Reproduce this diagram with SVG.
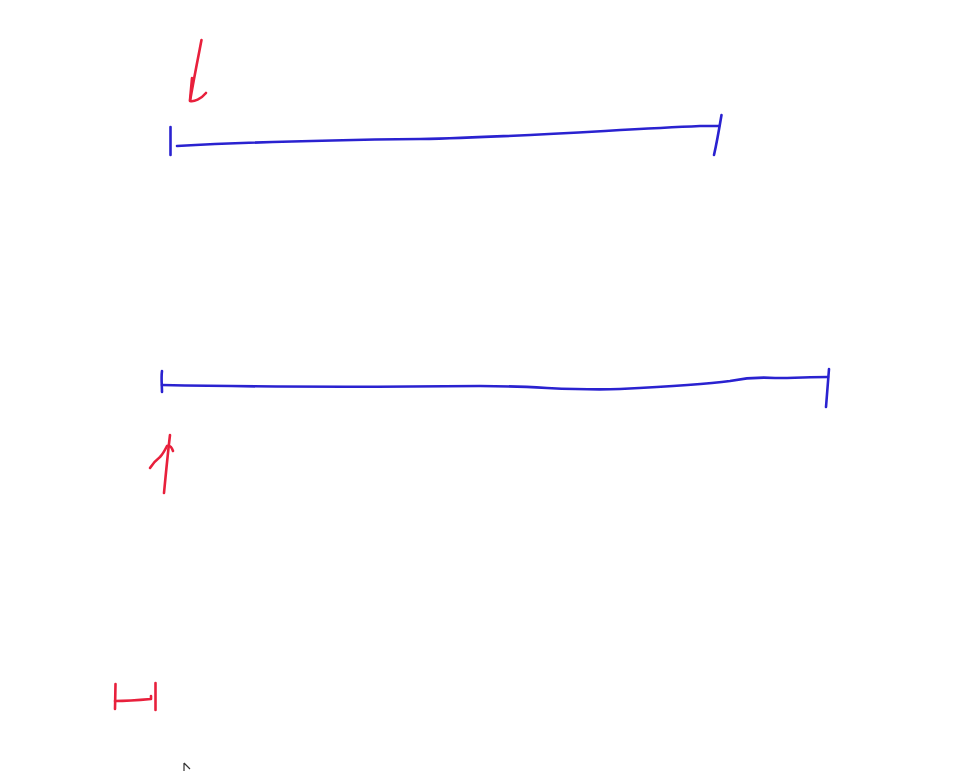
<svg xmlns="http://www.w3.org/2000/svg" width="973" height="771" viewBox="0 0 973 771">
<style>
.b{fill:none;stroke:#2a22d0;stroke-width:2.6;stroke-linecap:round;stroke-linejoin:round}
.r{fill:none;stroke:#e8203c;stroke-width:2.6;stroke-linecap:round;stroke-linejoin:round}
</style>
<rect width="973" height="771" fill="#ffffff"/>
<g id="arrow-down">
<path class="r" d="M201.5,40 C198,58 194,78 190,101 C194,102 201,99 206,93"/>
<path class="r" d="M192,78 L190,100"/>
</g>
<g id="line-top">
<path class="b" d="M170.5,127 L170.5,155"/>
<path class="b" d="M177,146 C250,142 330,140 420,139 C520,137 610,130 700,126 L719,126"/>
<path class="b" d="M721.5,115 C719,130 717,142 714,155"/>
</g>
<g id="line-bottom">
<path class="b" d="M162,371 C161,378 162,386 162,392"/>
<path class="b" d="M162,385 C260,387 380,387 480,386 C540,386 570,391 620,389 C660,387 700,385 730,381 C745,378 760,377 775,378 C795,378 810,377 828,377"/>
<path class="b" d="M829,369 C828,382 827,395 826,407"/>
</g>
<g id="arrow-up">
<path class="r" d="M164,493 C166,472 168,452 170,435"/>
<path class="r" d="M150,468 C154,462 156,460 160,457 C163,454 166,448 167,446 C170,445 172,448 173,451"/>
</g>
<g id="bracket">
<path class="r" d="M115.5,684 L115,709"/>
<path class="r" d="M115,701 C126,701 140,700 151,699 L151,696"/>
<path class="r" d="M155.5,683 L155.5,710"/>
</g>
<g id="cursor">
<path d="M184,763 L184,771 M184,763 L190,769" fill="none" stroke="#333" stroke-width="1.2"/>
</g>
</svg>
